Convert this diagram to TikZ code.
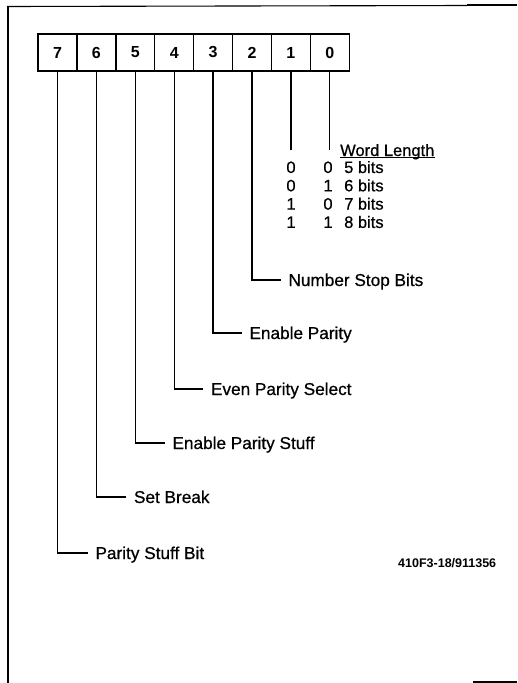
\documentclass[tikz,border=0pt]{standalone}
\usepackage{fontspec}
\setmainfont{Liberation Sans}
\newfontfamily\lblfont[FakeBold=0.6]{Liberation Sans}
\begin{document}
\begin{tikzpicture}[x=1pt,y=-1pt,
  frame/.style={line width=1.1pt},
  conn/.style={line width=1.3pt},
  bitbox/.style={draw,line width=1.2pt,minimum width=39pt,minimum height=37pt,inner sep=0pt,outer sep=0pt,font=\fontsize{16}{16}\selectfont\bfseries},
  lbl/.style={anchor=west,inner xsep=8pt,inner ysep=0pt,outer sep=0pt,text height=12pt,text depth=0pt,font=\fontsize{17.2}{17.2}\selectfont\lblfont},
  tbl/.style={inner sep=0pt,font=\fontsize{16.5}{16.5}\selectfont\lblfont},
  idtxt/.style={anchor=west,inner sep=0pt,font=\fontsize{12.5}{12.5}\selectfont\bfseries}]
\useasboundingbox (0,0) rectangle (517,683);
% frame
\draw[frame] (7,6.5) -- (467,5.5);
\draw[line width=2pt] (467,5) -- (517,5);
\draw[frame] (8,6.5) -- (8,683);
\draw[frame] (473,682) -- (517,682);
% bit boxes
\foreach \b [count=\i from 0] in {7,6,5,4,3,2,1,0}{
  \node[bitbox] (b\b) at ({57.5+38.9*\i},52.5) {\b};
}
% bits 1 and 0
\coordinate (e1) at (b1.south |- 0,150);
\coordinate (e0) at (b0.south |- 0,150);
\draw[conn] (b1.south) -- (e1);
\draw[conn] (b0.south) -- (e0);
\node[tbl,anchor=base west] (wl) at (340,156) {Word Length};
\draw[line width=1pt] ([yshift=-1.6pt]wl.base west) -- ([yshift=-1.6pt]wl.base east);
\foreach \a/\c/\t [count=\r from 0] in {0/0/5,0/1/6,1/0/7,1/1/8}{
  \node[tbl,anchor=base] (ra\r) at (291,{173+18.3*\r}) {\a};
  \node[tbl,anchor=base] (rc\r) at (328,{173+18.3*\r}) {\c};
  \node[tbl,anchor=base west] (rt\r) at (344,{173+18.3*\r}) {\t\ bits};
}
% labels
\node[lbl] (l2) at (280.5,280) {Number Stop Bits};
\node[lbl] (l3) at (241.5,333) {Enable Parity};
\node[lbl] (l4) at (203,389) {Even Parity Select};
\node[lbl] (l5) at (164.5,443) {Enable Parity Stuff};
\node[lbl] (l6) at (126,497) {Set Break};
\node[lbl] (l7) at (87.5,553) {Parity Stuff Bit};
\foreach \b in {2,3,4,5,6,7}{
  \draw[conn] (b\b.south) |- (l\b.west);
}
\node[idtxt] (id) at (398,563) {410F3-18/911356};
\end{tikzpicture}
\end{document}
